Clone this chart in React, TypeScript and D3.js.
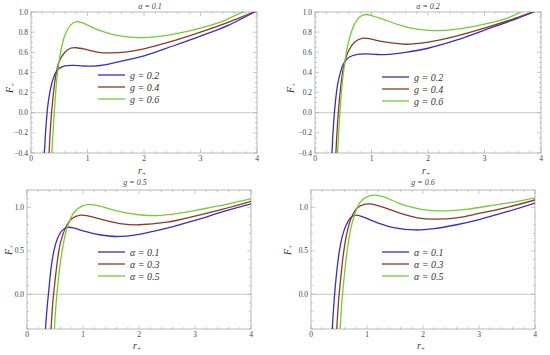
import { useEffect, useRef } from 'react';
import * as d3 from 'd3';

// titles, legends, ticks
const panelTitles = ['α = 0.1', 'α = 0.2', 'g = 0.5', 'g = 0.6'];
const legendTop = ['g = 0.2', 'g = 0.4', 'g = 0.6'];
const legendBottom = ['α  = 0.1', 'α  = 0.3', 'α  = 0.5'];
const xTicks = [0, 1, 2, 3, 4];
const yTicksTop = [-0.4, -0.2, 0, 0.2, 0.4, 0.6, 0.8, 1.0];
const yTicksBottom = [0, 0.5, 1.0];
const colors = ['#3a2bd0', '#8a3a22', '#74cc34'];

// panel 1: alpha = 0.1
const p1g02: [number, number][] = [[0.2, -0.75], [0.236, -0.4], [0.27, -0.1], [0.3, 0.08], [0.35, 0.25], [0.4, 0.35], [0.45, 0.41], [0.5, 0.44], [0.6, 0.465], [0.75, 0.47], [0.9, 0.465], [1.1, 0.462], [1.3, 0.475], [1.5, 0.5], [2.0, 0.565], [2.5, 0.66], [3.0, 0.76], [3.5, 0.87], [3.96, 1.0], [4.05, 1.02]];
const p1g04: [number, number][] = [[0.3, -0.75], [0.32, -0.4], [0.35, -0.1], [0.38, 0.1], [0.42, 0.3], [0.46, 0.43], [0.5, 0.51], [0.6, 0.6], [0.7, 0.64], [0.8, 0.645], [1.0, 0.625], [1.2, 0.6], [1.4, 0.595], [1.7, 0.605], [2.0, 0.635], [2.5, 0.71], [3.0, 0.8], [3.5, 0.9], [3.9, 0.99], [4.05, 1.02]];
const p1g06: [number, number][] = [[0.35, -0.75], [0.37, -0.4], [0.4, -0.1], [0.43, 0.15], [0.46, 0.35], [0.5, 0.52], [0.55, 0.67], [0.6, 0.77], [0.7, 0.87], [0.8, 0.905], [0.9, 0.895], [1.0, 0.87], [1.2, 0.82], [1.5, 0.77], [1.9, 0.745], [2.3, 0.76], [2.7, 0.8], [3.0, 0.84], [3.4, 0.91], [3.75, 1.0], [3.9, 1.03]];

// panel 2: alpha = 0.2
const p2g02: [number, number][] = [[0.28, -0.75], [0.3, -0.4], [0.33, -0.1], [0.36, 0.1], [0.4, 0.28], [0.45, 0.4], [0.5, 0.48], [0.6, 0.55], [0.75, 0.58], [0.9, 0.585], [1.1, 0.578], [1.3, 0.58], [1.6, 0.6], [2.0, 0.64], [2.5, 0.72], [3.0, 0.82], [3.5, 0.92], [3.87, 1.0], [4.05, 1.04]];
const p2g04: [number, number][] = [[0.35, -0.75], [0.37, -0.4], [0.4, -0.1], [0.43, 0.12], [0.47, 0.33], [0.52, 0.49], [0.6, 0.62], [0.7, 0.7], [0.85, 0.74], [1.0, 0.73], [1.2, 0.705], [1.6, 0.68], [2.0, 0.7], [2.5, 0.76], [3.0, 0.84], [3.5, 0.93], [3.85, 1.0], [4.05, 1.04]];
const p2g06: [number, number][] = [[0.38, -0.75], [0.4, -0.4], [0.43, -0.1], [0.46, 0.15], [0.5, 0.38], [0.55, 0.58], [0.6, 0.72], [0.7, 0.88], [0.8, 0.955], [0.9, 0.975], [1.0, 0.965], [1.2, 0.93], [1.5, 0.87], [1.8, 0.83], [2.1, 0.815], [2.5, 0.83], [3.0, 0.88], [3.4, 0.94], [3.65, 1.0], [3.8, 1.03]];

// panel 3: g = 0.5
const p3a01: [number, number][] = [[0.31, -0.7], [0.33, -0.4], [0.36, -0.15], [0.39, 0.05], [0.43, 0.3], [0.48, 0.5], [0.55, 0.65], [0.62, 0.73], [0.72, 0.77], [0.85, 0.76], [1.0, 0.73], [1.3, 0.685], [1.6, 0.665], [2.0, 0.69], [2.5, 0.76], [3.0, 0.85], [3.5, 0.95], [4.0, 1.04]];
const p3a03: [number, number][] = [[0.41, -0.7], [0.43, -0.4], [0.46, -0.1], [0.5, 0.15], [0.55, 0.42], [0.6, 0.6], [0.7, 0.78], [0.8, 0.87], [0.95, 0.91], [1.1, 0.9], [1.4, 0.85], [1.7, 0.81], [2.0, 0.8], [2.5, 0.83], [3.0, 0.9], [3.5, 0.98], [4.0, 1.07]];
const p3a05: [number, number][] = [[0.47, -0.7], [0.49, -0.4], [0.52, -0.1], [0.56, 0.17], [0.61, 0.43], [0.67, 0.65], [0.75, 0.83], [0.85, 0.95], [1.0, 1.02], [1.1, 1.035], [1.3, 1.015], [1.6, 0.96], [2.0, 0.915], [2.3, 0.905], [2.7, 0.93], [3.2, 0.99], [3.6, 1.04], [4.0, 1.1]];

// panel 4: g = 0.6
const p4a01: [number, number][] = [[0.36, -0.7], [0.38, -0.4], [0.41, -0.1], [0.45, 0.2], [0.5, 0.47], [0.56, 0.67], [0.63, 0.8], [0.72, 0.89], [0.8, 0.91], [0.95, 0.885], [1.2, 0.82], [1.5, 0.765], [1.85, 0.74], [2.2, 0.755], [2.6, 0.8], [3.0, 0.86], [3.5, 0.95], [4.0, 1.05]];
const p4a03: [number, number][] = [[0.44, -0.7], [0.46, -0.4], [0.49, -0.1], [0.53, 0.18], [0.58, 0.47], [0.64, 0.7], [0.72, 0.88], [0.82, 0.99], [0.95, 1.035], [1.05, 1.04], [1.3, 1.0], [1.6, 0.93], [1.9, 0.88], [2.2, 0.865], [2.6, 0.88], [3.0, 0.93], [3.5, 1.0], [4.0, 1.085]];
const p4a05: [number, number][] = [[0.5, -0.7], [0.52, -0.4], [0.55, -0.1], [0.59, 0.18], [0.64, 0.47], [0.7, 0.72], [0.78, 0.92], [0.88, 1.06], [1.0, 1.12], [1.12, 1.14], [1.3, 1.12], [1.6, 1.04], [2.0, 0.975], [2.4, 0.96], [2.8, 0.98], [3.3, 1.03], [3.7, 1.07], [4.0, 1.11]];

const serif = '"Liberation Serif", "DejaVu Serif", serif';

export default function App() {
  const ref = useRef<SVGSVGElement>(null);

  useEffect(() => {
    if (!ref.current) return;
    const svg = d3.select(ref.current);
    svg.selectAll('*').remove();

    const panels = [
      { box: [31, 257, 12, 153], yDom: [-0.4, 1.0], yTicks: yTicksTop, yMinor: 0.05, series: [p1g02, p1g04, p1g06], legend: legendTop, leg: [98, 75], title: [150, 9], xl: [142, 174], yl: [9, 88] },
      { box: [315, 541, 12, 153], yDom: [-0.4, 1.0], yTicks: yTicksTop, yMinor: 0.05, series: [p2g02, p2g04, p2g06], legend: legendTop, leg: [382, 77], title: [428, 9], xl: [426, 174], yl: [290, 88] },
      { box: [27, 251, 190, 329], yDom: [-0.4, 1.2], yTicks: yTicksBottom, yMinor: 0.1, series: [p3a01, p3a03, p3a05], legend: legendBottom, leg: [98, 252], title: [135, 185], xl: [137, 349], yl: [8, 250] },
      { box: [311, 535, 190, 329], yDom: [-0.4, 1.2], yTicks: yTicksBottom, yMinor: 0.1, series: [p4a01, p4a03, p4a05], legend: legendBottom, leg: [382, 252], title: [423, 185], xl: [421, 349], yl: [287, 250] },
    ];

    panels.forEach((p, i) => {
      const [x0, x1, y0, y1] = p.box;
      const x = d3.scaleLinear().domain([0, 4]).range([x0, x1]);
      const y = d3.scaleLinear().domain(p.yDom).range([y1, y0]);
      const g = svg.append('g');

      // clip
      const clipId = `clip${i}`;
      g.append('clipPath').attr('id', clipId)
        .append('rect').attr('x', x0).attr('y', y0).attr('width', x1 - x0).attr('height', y1 - y0);

      // zero line
      g.append('line')
        .attr('x1', x0).attr('x2', x1).attr('y1', y(0)).attr('y2', y(0))
        .attr('stroke', '#b8b8b8').attr('stroke-width', 0.8);

      // frame
      g.append('rect')
        .attr('x', x0).attr('y', y0).attr('width', x1 - x0).attr('height', y1 - y0)
        .attr('fill', 'none').attr('stroke', '#a8a8a8').attr('stroke-width', 0.8);

      // x ticks on bottom and top
      const xMinor = d3.range(0, 4.0001, 0.2);
      xMinor.forEach(v => {
        const major = Math.abs(v - Math.round(v)) < 1e-6;
        const len = major ? 4 : 2;
        g.append('line').attr('x1', x(v)).attr('x2', x(v)).attr('y1', y1).attr('y2', y1 - len)
          .attr('stroke', '#a8a8a8').attr('stroke-width', 0.6);
        g.append('line').attr('x1', x(v)).attr('x2', x(v)).attr('y1', y0).attr('y2', y0 + len)
          .attr('stroke', '#a8a8a8').attr('stroke-width', 0.6);
      });
      xTicks.forEach(v => {
        g.append('text').attr('x', x(v)).attr('y', y1 + 8)
          .attr('text-anchor', 'middle').attr('font-family', serif).attr('font-size', 7.5)
          .attr('fill', '#444').text(String(v));
      });

      // y ticks on left and right
      const yMinor = d3.range(p.yDom[0], p.yDom[1] + 1e-6, p.yMinor);
      yMinor.forEach(v => {
        const major = p.yTicks.some(t => Math.abs(t - v) < 1e-6);
        const len = major ? 4 : 2;
        g.append('line').attr('x1', x0).attr('x2', x0 + len).attr('y1', y(v)).attr('y2', y(v))
          .attr('stroke', '#a8a8a8').attr('stroke-width', 0.6);
        g.append('line').attr('x1', x1).attr('x2', x1 - len).attr('y1', y(v)).attr('y2', y(v))
          .attr('stroke', '#a8a8a8').attr('stroke-width', 0.6);
      });
      p.yTicks.forEach(v => {
        g.append('text').attr('x', x0 - 3).attr('y', y(v) + 2.5)
          .attr('text-anchor', 'end').attr('font-family', serif).attr('font-size', 7.5)
          .attr('fill', '#444').text(d3.format('.1f')(v).replace('-', '−'));
      });

      // curves
      const line = d3.line<[number, number]>()
        .x(d => x(d[0])).y(d => y(d[1]))
        .curve(d3.curveCatmullRom.alpha(0.5));
      const cg = g.append('g').attr('clip-path', `url(#${clipId})`);
      p.series.forEach((s, k) => {
        cg.append('path').attr('d', line(s) || '')
          .attr('fill', 'none').attr('stroke', colors[k]).attr('stroke-width', 1.3);
      });

      // legend
      p.legend.forEach((t, k) => {
        const ly = p.leg[1] + k * 12;
        g.append('line').attr('x1', p.leg[0]).attr('x2', p.leg[0] + 27).attr('y1', ly).attr('y2', ly)
          .attr('stroke', colors[k]).attr('stroke-width', 1.3);
        g.append('text').attr('x', p.leg[0] + 32).attr('y', ly + 3.5)
          .attr('font-family', serif).attr('font-size', 10).attr('font-style', 'italic')
          .attr('fill', '#333').text(t);
      });

      // title
      g.append('text').attr('x', p.title[0]).attr('y', p.title[1])
        .attr('text-anchor', 'middle').attr('font-family', serif).attr('font-size', 8)
        .attr('font-style', 'italic').attr('fill', '#444').text(panelTitles[i]);

      // x label
      const xl = g.append('text').attr('x', p.xl[0]).attr('y', p.xl[1])
        .attr('text-anchor', 'middle').attr('font-family', serif).attr('font-size', 10)
        .attr('font-style', 'italic').attr('fill', '#333');
      xl.append('tspan').text('r');
      xl.append('tspan').attr('font-size', 6).attr('dy', 2).text('+');

      // y label
      const yl = g.append('text').attr('transform', `translate(${p.yl[0] + 4},${p.yl[1]}) rotate(-90)`)
        .attr('text-anchor', 'middle').attr('font-family', serif).attr('font-size', 10)
        .attr('font-style', 'italic').attr('fill', '#333');
      yl.append('tspan').text('F');
      yl.append('tspan').attr('font-size', 6).attr('dy', 2).text('+');
    });
  }, []);

  return (
    <svg ref={ref} width={550} height={355}
      style={{ position: 'absolute', left: 0, top: 0, background: '#fff' }} />
  );
}
